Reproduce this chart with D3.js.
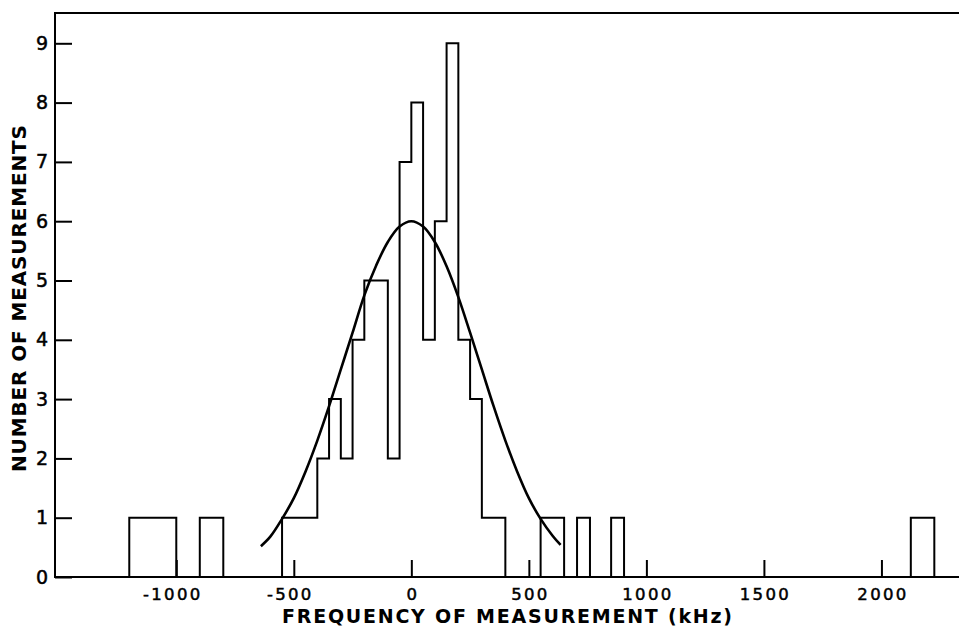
<!DOCTYPE html>
<html>
<head>
<meta charset="utf-8">
<script src="https://cdn.jsdelivr.net/npm/d3@7/dist/d3.min.js"></script>
<style>
  html, body { margin: 0; padding: 0; background: #fff; }
  svg { display: block; }
</style>
</head>
<body>
<svg id="chart" width="959" height="629"></svg>
<script>
// ---- data ----
const binLow   = [-1200, -900, -550, -400, -350, -300, -250, -200, -100, -50, 0, 50, 100, 150, 200, 250, 300, 550, 705, 850, 2125];
const binHigh  = [-1000, -800, -400, -350, -300, -250, -200, -100, -50, 0, 50, 100, 150, 200, 250, 300, 400, 650, 760, 905, 2225];
const binCount = [1, 1, 1, 2, 3, 2, 4, 5, 2, 7, 8, 4, 6, 9, 4, 3, 1, 1, 1, 1, 1];

const curveKHz = [-640, -600, -550, -500, -450, -400, -350, -300, -250, -200, -150, -100, -50, 0, 50, 100, 150, 200, 250, 300, 350, 400, 450, 500, 550, 600, 635];
const curveN   = [0.52, 0.68, 0.98, 1.33, 1.78, 2.30, 2.88, 3.50, 4.12, 4.75, 5.25, 5.65, 5.91, 6.00, 5.91, 5.65, 5.24, 4.72, 4.12, 3.50, 2.88, 2.30, 1.78, 1.33, 0.98, 0.70, 0.54];

const xTicks = [-1000, -500, 0, 500, 1000, 1500, 2000];
const yTicks = [0, 1, 2, 3, 4, 5, 6, 7, 8, 9];
const xTitle = "FREQUENCY OF MEASUREMENT (kHz)";
const yTitle = "NUMBER OF MEASUREMENTS";

// ---- layout ----
const mLeft = 55, mRight = 959, mTop = 13, mBottom = 577;
const svg = d3.select("#chart");
const x = d3.scaleLinear().domain([-1516, 2330]).range([mLeft, mRight]);
const y = d3.scaleLinear().domain([0, 9]).range([mBottom, 43.3]);
const font = "'DejaVu Sans', sans-serif";

// frame: left axis, top line, baseline
svg.append("path")
  .attr("d", `M${mRight},${mTop}H${mLeft}V${mBottom}H${mRight}`)
  .attr("fill", "none").attr("stroke", "#000").attr("stroke-width", 2);

// x axis ticks (pointing up)
const xAxis = svg.append("g")
  .attr("transform", `translate(0,${mBottom})`)
  .call(d3.axisBottom(x).tickValues(xTicks).tickSizeInner(-17).tickSizeOuter(0).tickPadding(8)
        .tickFormat(d => d < 0 ? "-" + Math.abs(d) : String(d)));
xAxis.select(".domain").remove();
xAxis.selectAll("line").attr("stroke", "#000").attr("stroke-width", 2);
xAxis.selectAll("text")
  .attr("font-family", font).attr("font-size", 16.5).attr("letter-spacing", 2.3)
  .attr("fill", "#000").attr("stroke", "#000").attr("stroke-width", 0.5)
  .attr("y", 11).attr("dy", "0.71em")
  .attr("dx", d => d < 0 ? -4 : 1);

// y axis ticks (pointing right, into the plot)
const yAxis = svg.append("g")
  .attr("transform", `translate(${mLeft},0)`)
  .call(d3.axisLeft(y).tickValues(yTicks).tickSizeInner(-17).tickSizeOuter(0).tickPadding(6)
        .tickFormat(d3.format("d")));
yAxis.select(".domain").remove();
yAxis.selectAll("line").attr("stroke", "#000").attr("stroke-width", 2);
yAxis.selectAll("text")
  .attr("font-family", font).attr("font-size", 19).attr("fill", "#000")
  .attr("stroke", "#000").attr("stroke-width", 0.5)
  .attr("x", -7);

// histogram outline (step path built from bins)
const order = d3.range(binLow.length).sort((a, b) => binLow[a] - binLow[b]);
let path = "";
let prevHigh = null;
order.forEach(i => {
  const x0 = x(binLow[i]), x1 = x(binHigh[i]), yv = y(binCount[i]);
  if (prevHigh === null || prevHigh !== binLow[i]) {
    if (prevHigh !== null) path += `V${y(0)}`;
    path += `M${x0},${y(0)}`;
  }
  path += `V${yv}H${x1}`;
  prevHigh = binHigh[i];
});
path += `V${y(0)}`;
svg.append("path")
  .attr("d", path)
  .attr("fill", "none").attr("stroke", "#000").attr("stroke-width", 2)
  .attr("stroke-linejoin", "miter");

// fitted curve
const line = d3.line().x((d, i) => x(curveKHz[i])).y((d, i) => y(curveN[i])).curve(d3.curveCatmullRom);
svg.append("path")
  .attr("d", line(curveKHz))
  .attr("fill", "none").attr("stroke", "#000").attr("stroke-width", 2.6);

// axis titles
svg.append("text")
  .attr("x", (mLeft + mRight) / 2).attr("y", 623)
  .attr("text-anchor", "middle")
  .attr("font-family", font).attr("font-size", 19).attr("fill", "#000")
  .attr("font-weight", "bold")
  .attr("textLength", 450).attr("lengthAdjust", "spacing")
  .text(xTitle);

svg.append("text")
  .attr("transform", `translate(26,298.5) rotate(-90)`)
  .attr("text-anchor", "middle")
  .attr("font-family", font).attr("font-size", 20).attr("fill", "#000")
  .attr("font-weight", "bold")
  .attr("textLength", 347).attr("lengthAdjust", "spacing")
  .text(yTitle);
</script>
</body>
</html>
